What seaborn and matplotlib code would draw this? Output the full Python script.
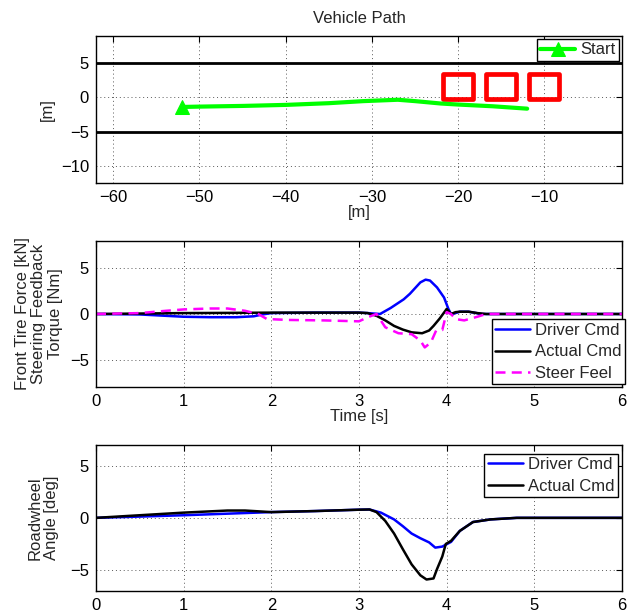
import matplotlib
matplotlib.use("Agg")
import matplotlib.pyplot as plt
import matplotlib.patches as mpatches
import seaborn as sns
import numpy as np

# ---------------- data ----------------
# Panel 1: vehicle path
path_x = [-52, -50, -45, -40, -35, -31, -28, -27, -25, -22, -20, -16, -12]
path_y = [-1.4, -1.35, -1.25, -1.1, -0.85, -0.55, -0.4, -0.35, -0.55, -0.9, -1.05, -1.3, -1.65]
lane_y = [5, -5]
obstacle_x = [-20, -15, -10]
obstacle_y = [1.55, 1.55, 1.55]
obstacle_w = 3.5
obstacle_h = 3.7

# Panel 2: steering torque / force
t_drv2 = [0, 0.5, 0.8, 1.0, 1.3, 1.6, 1.8, 1.9, 2.0, 2.5, 3.0, 3.1, 3.24, 3.36, 3.51, 3.58, 3.7,
          3.76, 3.81, 3.89, 3.97, 4.02, 4.05, 4.1, 4.15, 4.25, 4.4, 4.6, 5.0, 6.0]
v_drv2 = [0, -0.05, -0.2, -0.3, -0.35, -0.35, -0.25, -0.05, 0.1, 0.15, 0.15, 0.1, 0.0, 0.65, 1.6, 2.2, 3.45,
          3.75, 3.65, 2.9, 1.8, 0.55, 0.0, 0.1, 0.25, 0.25, 0.0, 0, 0, 0]
t_act2 = [0, 0.5, 1.0, 1.5, 2.0, 2.5, 3.0, 3.1, 3.2, 3.3, 3.4, 3.5, 3.6, 3.72, 3.8, 3.85, 3.92,
          4.0, 4.05, 4.1, 4.15, 4.25, 4.35, 4.45, 5.0, 6.0]
v_act2 = [0, 0.05, 0.1, 0.12, 0.15, 0.15, 0.15, 0.1, -0.2, -0.7, -1.3, -1.7, -2.0, -2.1, -1.8, -1.3, -0.5,
          0.55, 0.0, 0.2, 0.25, 0.25, 0.1, 0.0, 0, 0]
t_feel = [0, 0.5, 0.8, 1.0, 1.3, 1.5, 1.7, 1.85, 1.95, 2.2, 2.6, 3.0, 3.1, 3.2, 3.3, 3.45, 3.6, 3.7,
          3.75, 3.82, 3.88, 3.95, 4.0, 4.05, 4.1, 4.2, 4.35, 4.45, 5.0, 6.0]
v_feel = [0, 0.1, 0.35, 0.5, 0.6, 0.6, 0.35, 0.0, -0.55, -0.65, -0.7, -0.8, -0.35, 0.0, -1.45, -2.1, -2.2, -2.9,
          -3.65, -3.1, -1.8, -1.75, 0.2, 0.0, -0.55, -0.7, -0.3, 0.0, 0, 0]

# Panel 3: roadwheel angle
t_drv3 = [0, 0.5, 1.0, 1.5, 2.0, 2.5, 3.0, 3.12, 3.25, 3.4, 3.5, 3.6, 3.7, 3.8, 3.87, 3.95, 4.05,
          4.15, 4.3, 4.5, 4.8, 5.0, 6.0]
v_drv3 = [0, 0.12, 0.25, 0.4, 0.55, 0.65, 0.78, 0.8, 0.5, -0.15, -0.8, -1.5, -1.95, -2.35, -2.85, -2.75, -2.3,
          -1.25, -0.4, -0.15, 0.0, 0, 0]
t_act3 = [0, 0.5, 1.0, 1.5, 1.7, 2.0, 2.5, 3.0, 3.12, 3.2, 3.3, 3.4, 3.5, 3.6, 3.7, 3.77, 3.85, 3.89,
          3.95, 3.99, 4.05, 4.15, 4.3, 4.5, 4.8, 5.0, 6.0]
v_act3 = [0, 0.25, 0.5, 0.7, 0.7, 0.55, 0.65, 0.78, 0.8, 0.55, -0.3, -1.5, -3.0, -4.45, -5.5, -5.9, -5.8, -4.9,
          -3.7, -2.5, -2.2, -1.25, -0.4, -0.15, 0.0, 0, 0]

x_ticks1 = [-60, -50, -40, -30, -20, -10]
y_ticks1 = [-10, -5, 0, 5]
t_ticks = [0, 1, 2, 3, 4, 5, 6]
y_ticks23 = [-5, 0, 5]

# ---------------- style ----------------
sns.set_theme(style="white")
plt.rcParams["font.family"] = ["Liberation Sans", "DejaVu Sans"]
plt.rcParams["axes.unicode_minus"] = True
FS = 12

fig = plt.figure(figsize=(6.28, 6.13), dpi=100)
W, H = 628.0, 613.0
def pos(l, t, r, b):
    return [l / W, 1 - b / H, (r - l) / W, (b - t) / H]

ax1 = fig.add_axes(pos(96, 35.7, 622, 183))
ax2 = fig.add_axes(pos(96, 240.7, 622, 387.3))
ax3 = fig.add_axes(pos(96, 444.7, 622, 591))

def style(ax):
    ax.set_facecolor("white")
    for s in ax.spines.values():
        s.set_color("black")
        s.set_linewidth(1.0)
    ax.tick_params(direction="in", length=4, width=0.8, colors="black",
                   top=True, right=True, labelsize=FS, pad=5)
    ax.grid(True, linestyle=(0, (1, 3)), color="0.35", linewidth=0.7)
    ax.set_axisbelow(True)

def legend(ax, loc, **kw):
    lg = ax.legend(loc=loc, fontsize=FS, frameon=True, fancybox=False, framealpha=1,
                   edgecolor="black", borderpad=0.2, handlelength=2.1, handletextpad=0.3,
                   labelspacing=0.4, borderaxespad=0.2, **kw)
    lg.get_frame().set_linewidth(1.0)
    return lg

# Panel 1
style(ax1)
for ly in lane_y:
    ax1.axhline(ly, color="black", lw=2.0, zorder=2)
for ox, oy in zip(obstacle_x, obstacle_y):
    ax1.add_patch(mpatches.Rectangle((ox - obstacle_w / 2, oy - obstacle_h / 2), obstacle_w, obstacle_h,
                                     fill=False, edgecolor="red", lw=3.4, joinstyle="round", zorder=3))
sns.lineplot(x=path_x, y=path_y, ax=ax1, color="#00ff00", lw=3, marker="^", markevery=[0],
             markersize=10, markeredgecolor="#00ff00", label="Start", sort=False, zorder=4)
ax1.set_xlim(-62, -1)
ax1.set_ylim(-12.5, 9)
ax1.set_xticks(x_ticks1)
ax1.set_yticks(y_ticks1)
ax1.set_title("Vehicle Path", fontsize=FS, pad=9)
ax1.set_xlabel("[m]", fontsize=FS, labelpad=0)
ax1.set_ylabel("[m]", fontsize=FS, labelpad=4)
legend(ax1, "upper right")

# Panel 2
style(ax2)
sns.lineplot(x=t_drv2, y=v_drv2, ax=ax2, color="#0000ff", lw=1.8, label="Driver Cmd", sort=False)
sns.lineplot(x=t_act2, y=v_act2, ax=ax2, color="black", lw=1.8, label="Actual Cmd", sort=False)
sns.lineplot(x=t_feel, y=v_feel, ax=ax2, color="#ff00ff", lw=1.8, linestyle=(0, (4, 2.5)),
             label="Steer Feel", sort=False)
ax2.set_xlim(0, 6)
ax2.set_ylim(-8, 8)
ax2.set_xticks(t_ticks)
ax2.set_yticks(y_ticks23)
ax2.set_xlabel("Time [s]", fontsize=FS, labelpad=0)
ax2.set_ylabel("Front Tire Force [kN]\nSteering Feedback\nTorque [Nm]", fontsize=FS,
               labelpad=5, linespacing=1.15)
lg2 = legend(ax2, "lower right")
lg2.set_bbox_to_anchor((1.012, -0.003), transform=ax2.transAxes)

# Panel 3
style(ax3)
sns.lineplot(x=t_drv3, y=v_drv3, ax=ax3, color="#0000ff", lw=1.8, label="Driver Cmd", sort=False)
sns.lineplot(x=t_act3, y=v_act3, ax=ax3, color="black", lw=1.8, label="Actual Cmd", sort=False)
ax3.set_xlim(0, 6)
ax3.set_ylim(-7, 7)
ax3.set_xticks(t_ticks)
ax3.set_yticks(y_ticks23)
ax3.set_xlabel("")
ax3.set_ylabel("Roadwheel\nAngle [deg]", fontsize=FS, labelpad=8, linespacing=1.15)
lg3 = legend(ax3, "upper right")
lg3.set_bbox_to_anchor((0.998, 0.96), transform=ax3.transAxes)

fig.savefig("out.png", dpi=100)
